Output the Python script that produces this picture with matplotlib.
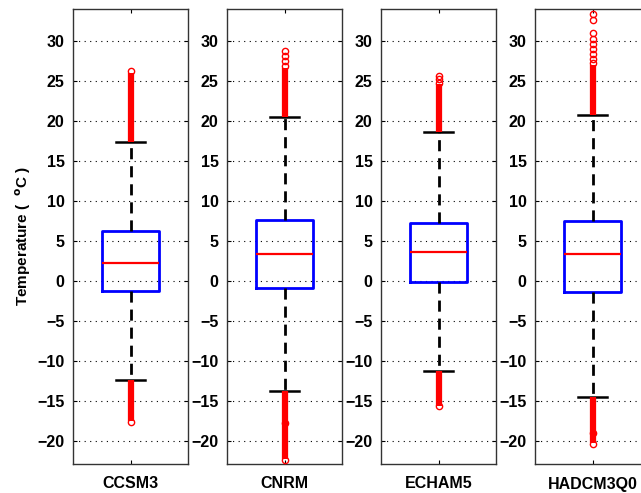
import matplotlib
matplotlib.use('Agg')
import matplotlib.pyplot as plt

plt.rcParams['font.family'] = ['Liberation Sans', 'DejaVu Sans']
plt.rcParams['font.weight'] = 'bold'

# data (deg C)
models = ['CCSM3', 'CNRM', 'ECHAM5', 'HADCM3Q0']
q1 = [-1.3, -0.9, -0.1, -1.4]
medians = [2.25, 3.3, 3.6, 3.3]
q3 = [6.3, 7.6, 7.25, 7.45]
whisker_lo = [-12.4, -13.75, -11.25, -14.5]
whisker_hi = [17.4, 20.5, 18.6, 20.8]
# dense outlier bands (look like a solid red bar)
band_hi_top = [26.0, 26.6, 24.6, 27.0]
band_lo_bottom = [-17.5, -22.3, -15.6, -20.3]
# separate outlier circles that are still visible
sparse_high = [
    [26.3],
    [28.7, 28.1, 27.5, 26.9],
    [25.6, 25.2, 24.8],
    [33.4, 32.6, 31.0, 30.2, 29.6, 29.0, 28.4, 27.8, 27.3],
]
sparse_low = [
    [-17.6],
    [-22.4, -17.8],
    [-15.7],
    [-20.4, -19.0],
]

fig = plt.figure(figsize=(6.41, 4.93), dpi=100)

left0 = 73 / 641
step = 154 / 641
width = 115 / 641
bottom = 1 - 464 / 493
height = 455 / 493

for i, name in enumerate(models):
    ax = fig.add_axes([left0 + i * step, bottom, width, height])
    stats = [{
        'med': medians[i], 'q1': q1[i], 'q3': q3[i],
        'whislo': whisker_lo[i], 'whishi': whisker_hi[i],
        'fliers': [], 'label': name,
    }]
    ax.bxp(stats, positions=[1], widths=0.5, showfliers=False,
           boxprops=dict(color='#0000ff', linewidth=2),
           medianprops=dict(color='#ff0000', linewidth=1.6),
           whiskerprops=dict(color='black', linewidth=2, linestyle=(0, (4, 2.5))),
           capprops=dict(color='black', linewidth=1.8),
           capwidths=0.25)

    # outliers: dense bands drawn as thick bars, single points as circles
    ax.vlines([1, 1], [whisker_hi[i], band_lo_bottom[i]],
              [band_hi_top[i], whisker_lo[i]], color='#ff0000',
              linewidth=4.5, zorder=3)
    ax.plot([1] * len(sparse_high[i]), sparse_high[i], 'o', mfc='none',
            mec='#ff0000', ms=4.5, mew=1, zorder=4)
    ax.plot([1] * len(sparse_low[i]), sparse_low[i], 'o', mfc='none',
            mec='#ff0000', ms=4.5, mew=1, zorder=4)

    ax.set_xlim(0.5, 1.5)
    ax.set_ylim(-22.9, 34)
    ax.set_yticks(range(-20, 31, 5))
    ax.set_xticks([1])
    ax.set_xticklabels([name], fontsize=11.5, fontweight='bold')
    ax.tick_params(axis='y', labelsize=11.5, direction='in', length=3,
                   right=True, pad=6)
    ax.tick_params(axis='x', direction='in', length=3, top=True, pad=9)
    ax.grid(axis='y', color='black', linestyle=(0, (1, 4)), linewidth=0.8)
    ax.set_axisbelow(True)
    for s in ax.spines.values():
        s.set_color('#333333')
        s.set_linewidth(1.0)
    if i == 0:
        ax.set_ylabel('Temperature (  $^{\\mathbf{o}}$C )', fontsize=11,
                      fontweight='bold', labelpad=3)

fig.savefig('out.png', dpi=100)
